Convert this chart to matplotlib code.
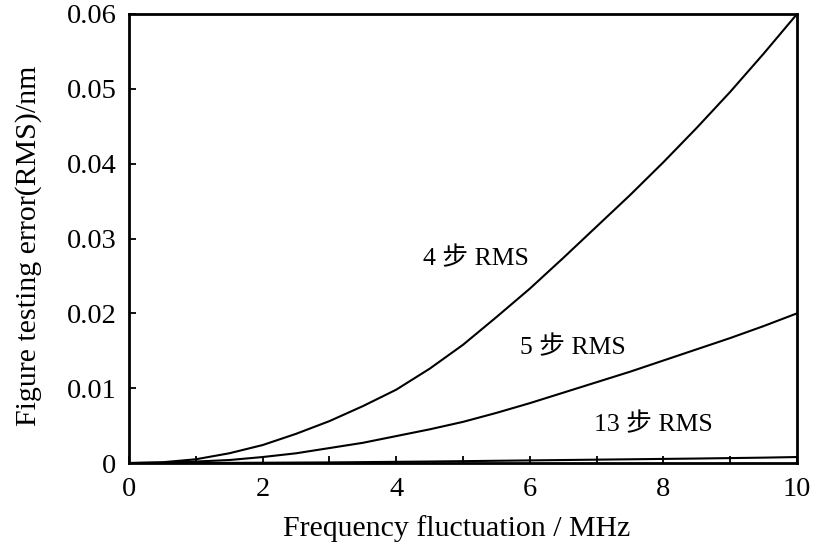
import matplotlib
matplotlib.use("Agg")
import matplotlib.pyplot as plt
from matplotlib.ticker import MultipleLocator, FixedLocator

# Data
freq = [0, 0.5, 1, 1.5, 2, 2.5, 3, 3.5, 4, 4.5, 5, 5.5, 6, 6.5, 7, 7.5, 8, 8.5, 9, 9.5, 10]
rms_4 = [0, 0.0001, 0.0005, 0.0013, 0.0024, 0.0039, 0.0056, 0.0076, 0.0098, 0.0126, 0.0158,
         0.0195, 0.0233, 0.0274, 0.0316, 0.0358, 0.0402, 0.0448, 0.0496, 0.0547, 0.0600]
rms_5 = [0, 0.00005, 0.0002, 0.0004, 0.0008, 0.0013, 0.0020, 0.0027, 0.0036, 0.0045, 0.0055,
         0.0067, 0.0080, 0.0094, 0.0108, 0.0122, 0.0137, 0.0152, 0.0167, 0.0183, 0.0200]
rms_13 = [0, 0.0, 0.00001, 0.00002, 0.00004, 0.00006, 0.00008, 0.00012, 0.00016, 0.0002, 0.00025,
          0.0003, 0.00035, 0.0004, 0.00045, 0.0005, 0.00055, 0.0006, 0.00066, 0.00072, 0.0008]

labels = ["4 步 RMS", "5 步 RMS", "13 步 RMS"]
label_pos = [(5.2, 0.0274), (6.65, 0.0154), (7.85, 0.0051)]

x_major = [0, 2, 4, 6, 8, 10]
y_ticks = [0, 0.01, 0.02, 0.03, 0.04, 0.05, 0.06]
y_ticklabels = ["0", "0.01", "0.02", "0.03", "0.04", "0.05", "0.06"]

serif = ["Liberation Serif", "Noto Sans CJK SC", "DejaVu Serif"]
plt.rcParams['font.family'] = serif

fig = plt.figure(figsize=(8.28, 5.49), dpi=100)
ax = fig.add_axes([0.1558, 0.1566, 0.8068, 0.8179])

for ys in (rms_4, rms_5, rms_13):
    ax.plot(freq, ys, color="black", lw=1.5)

for (lx, ly), t in zip(label_pos, labels):
    ax.text(lx, ly, t, fontsize=18.5, ha="center", va="center", family=serif)

ax.set_xlim(0, 10)
ax.set_ylim(0, 0.06)
ax.xaxis.set_major_locator(FixedLocator(x_major))
ax.xaxis.set_minor_locator(MultipleLocator(1))
ax.set_yticks(y_ticks)
ax.set_yticklabels(y_ticklabels)
ax.tick_params(axis="both", which="both", direction="in", labelsize=20.5, width=1.3, length=5,
               top=False, right=False)
ax.tick_params(axis="y", pad=9)
ax.tick_params(axis="x", pad=10)
for s in ax.spines.values():
    s.set_linewidth(2)

ax.set_xlabel("Frequency fluctuation / MHz", fontsize=21.5)
ax.set_ylabel("Figure testing error(RMS)/nm", fontsize=21.5)
ax.xaxis.set_label_coords(0.49, -0.145)
ax.xaxis.label.set_va("center")
ax.yaxis.set_label_coords(-0.151, 0.483)
ax.yaxis.label.set_va("center")

fig.savefig("out.png", dpi=100)
